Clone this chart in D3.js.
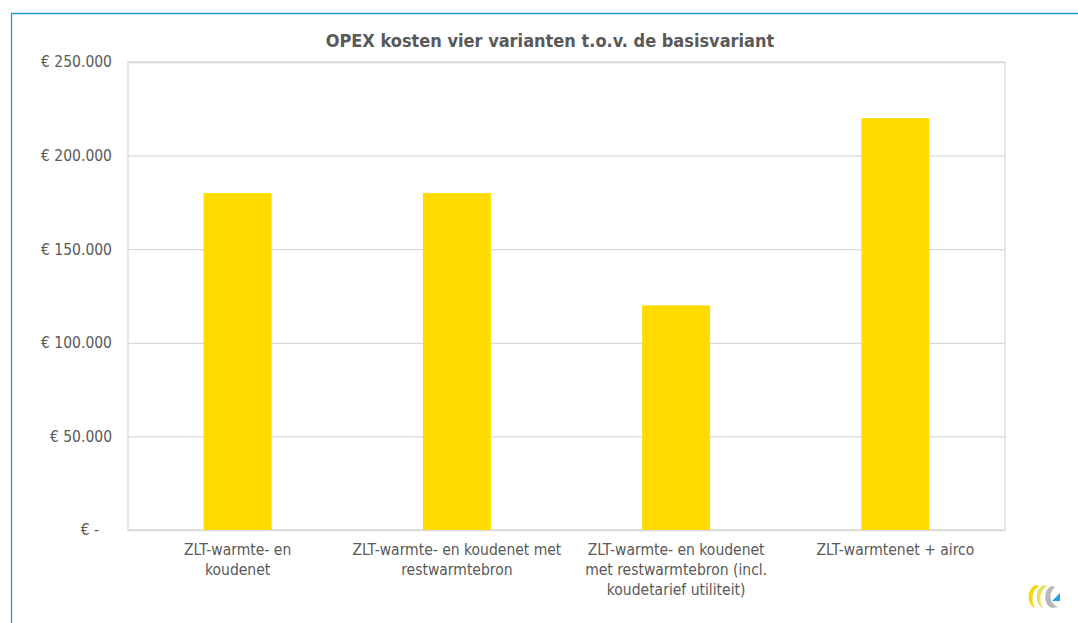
<!DOCTYPE html>
<html>
<head>
<meta charset="utf-8">
<script src="https://cdn.jsdelivr.net/npm/d3@7"></script>
<style>
  body { margin: 0; background: #fff; }
  svg { display: block; }
  text { font-family: Tahoma, "DejaVu Sans Condensed", "DejaVu Sans", sans-serif; fill: #595959; }
</style>
</head>
<body>
<script>
// data
var categories = [
  ["ZLT-warmte- en", "koudenet"],
  ["ZLT-warmte- en koudenet met", "restwarmtebron"],
  ["ZLT-warmte- en koudenet", "met restwarmtebron (incl.", "koudetarief utiliteit)"],
  ["ZLT-warmtenet + airco"]
];
var opex = [180000, 180000, 120000, 220000];
var yTicks = [0, 50000, 100000, 150000, 200000, 250000];
var title = "OPEX kosten vier varianten t.o.v. de basisvariant";

var width = 1078, height = 623;
var margin = {left: 128, right: 73, top: 62, bottom: 93};

var svg = d3.select("body").append("svg")
  .attr("width", width)
  .attr("height", height);

// blue frame (top + left edge visible)
svg.append("path")
  .attr("d", "M11.5," + height + "V13.5H" + width)
  .attr("fill", "none")
  .attr("stroke", "#1f9bd2")
  .attr("stroke-width", 1.3);

var x = d3.scaleBand()
  .domain(d3.range(opex.length))
  .range([margin.left, width - margin.right])
  .paddingInner(0.69)
  .paddingOuter(0.345);

var y = d3.scaleLinear()
  .domain([0, 250000])
  .range([height - margin.bottom, margin.top]);

var fmt = function(v){
  if (v == 0) return "€ -";
  return "€ " + d3.format(",")(v).replace(/,/g, ".");
};

// grid + y labels
var yAxis = svg.append("g")
  .attr("transform", "translate(" + margin.left + ",0)")
  .call(d3.axisLeft(y).tickValues(yTicks).tickFormat(fmt)
    .tickSize(-(width - margin.left - margin.right)).tickPadding(16));
yAxis.select(".domain").remove();
yAxis.attr("font-size", null).attr("font-family", null);
yAxis.selectAll("line").attr("stroke", "#d9d9d9").attr("stroke-width", 1.3);
yAxis.selectAll("text")
  .style("font-size", "15.5px")
  .attr("dx", function(d){ return d == 0 ? -13 : 0; });

// plot frame left/right/bottom
svg.append("rect")
  .attr("x", margin.left).attr("y", margin.top)
  .attr("width", width - margin.left - margin.right)
  .attr("height", height - margin.top - margin.bottom)
  .attr("fill", "none")
  .attr("stroke", "#d9d9d9")
  .attr("stroke-width", 1.3);

// bars
svg.append("g").selectAll("rect")
  .data(opex)
  .enter()
  .append("rect")
  .attr("x", function(d, i){ return x(i); })
  .attr("y", function(d){ return y(d); })
  .attr("width", x.bandwidth())
  .attr("height", function(d){ return y(0) - y(d); })
  .attr("fill", "#ffdb00");

// x labels
var xl = svg.append("g").selectAll("text")
  .data(categories)
  .enter()
  .append("text")
  .attr("text-anchor", "middle")
  .attr("x", function(d, i){ return x(i) + x.bandwidth() / 2; })
  .attr("y", height - margin.bottom + 25)
  .style("font-size", "15.5px");
xl.selectAll("tspan")
  .data(function(d){ return d; })
  .enter()
  .append("tspan")
  .attr("x", function(){ return this.parentNode.getAttribute("x"); })
  .attr("dy", function(d, i){ return i == 0 ? 0 : 20; })
  .text(function(d){ return d; });

// title
svg.append("text")
  .attr("x", 550)
  .attr("y", 47)
  .attr("text-anchor", "middle")
  .style("font-size", "18px")
  .style("font-weight", "bold")
  .text(title);

// small logo bottom right
var logo = svg.append("g").attr("transform", "translate(1027,585)");
logo.append("path")
  .attr("d", "M9,0 C1,2 -2,18 8,23 C4,16 4,6 12,1 Z")
  .attr("fill", "#f5d800");
logo.append("path")
  .attr("d", "M17,0 C9,2 6,18 16,23 C12,16 12,6 20,1 Z")
  .attr("fill", "#e8e060");
logo.append("path")
  .attr("d", "M25,1 C17,3 15,19 25,23 L31,22 C22,19 21,8 28,2 Z")
  .attr("fill", "#b8b8b8");
logo.append("path")
  .attr("d", "M25,16 L33,8 L33,16 Z")
  .attr("fill", "#1aa3e8");
</script>
</body>
</html>
